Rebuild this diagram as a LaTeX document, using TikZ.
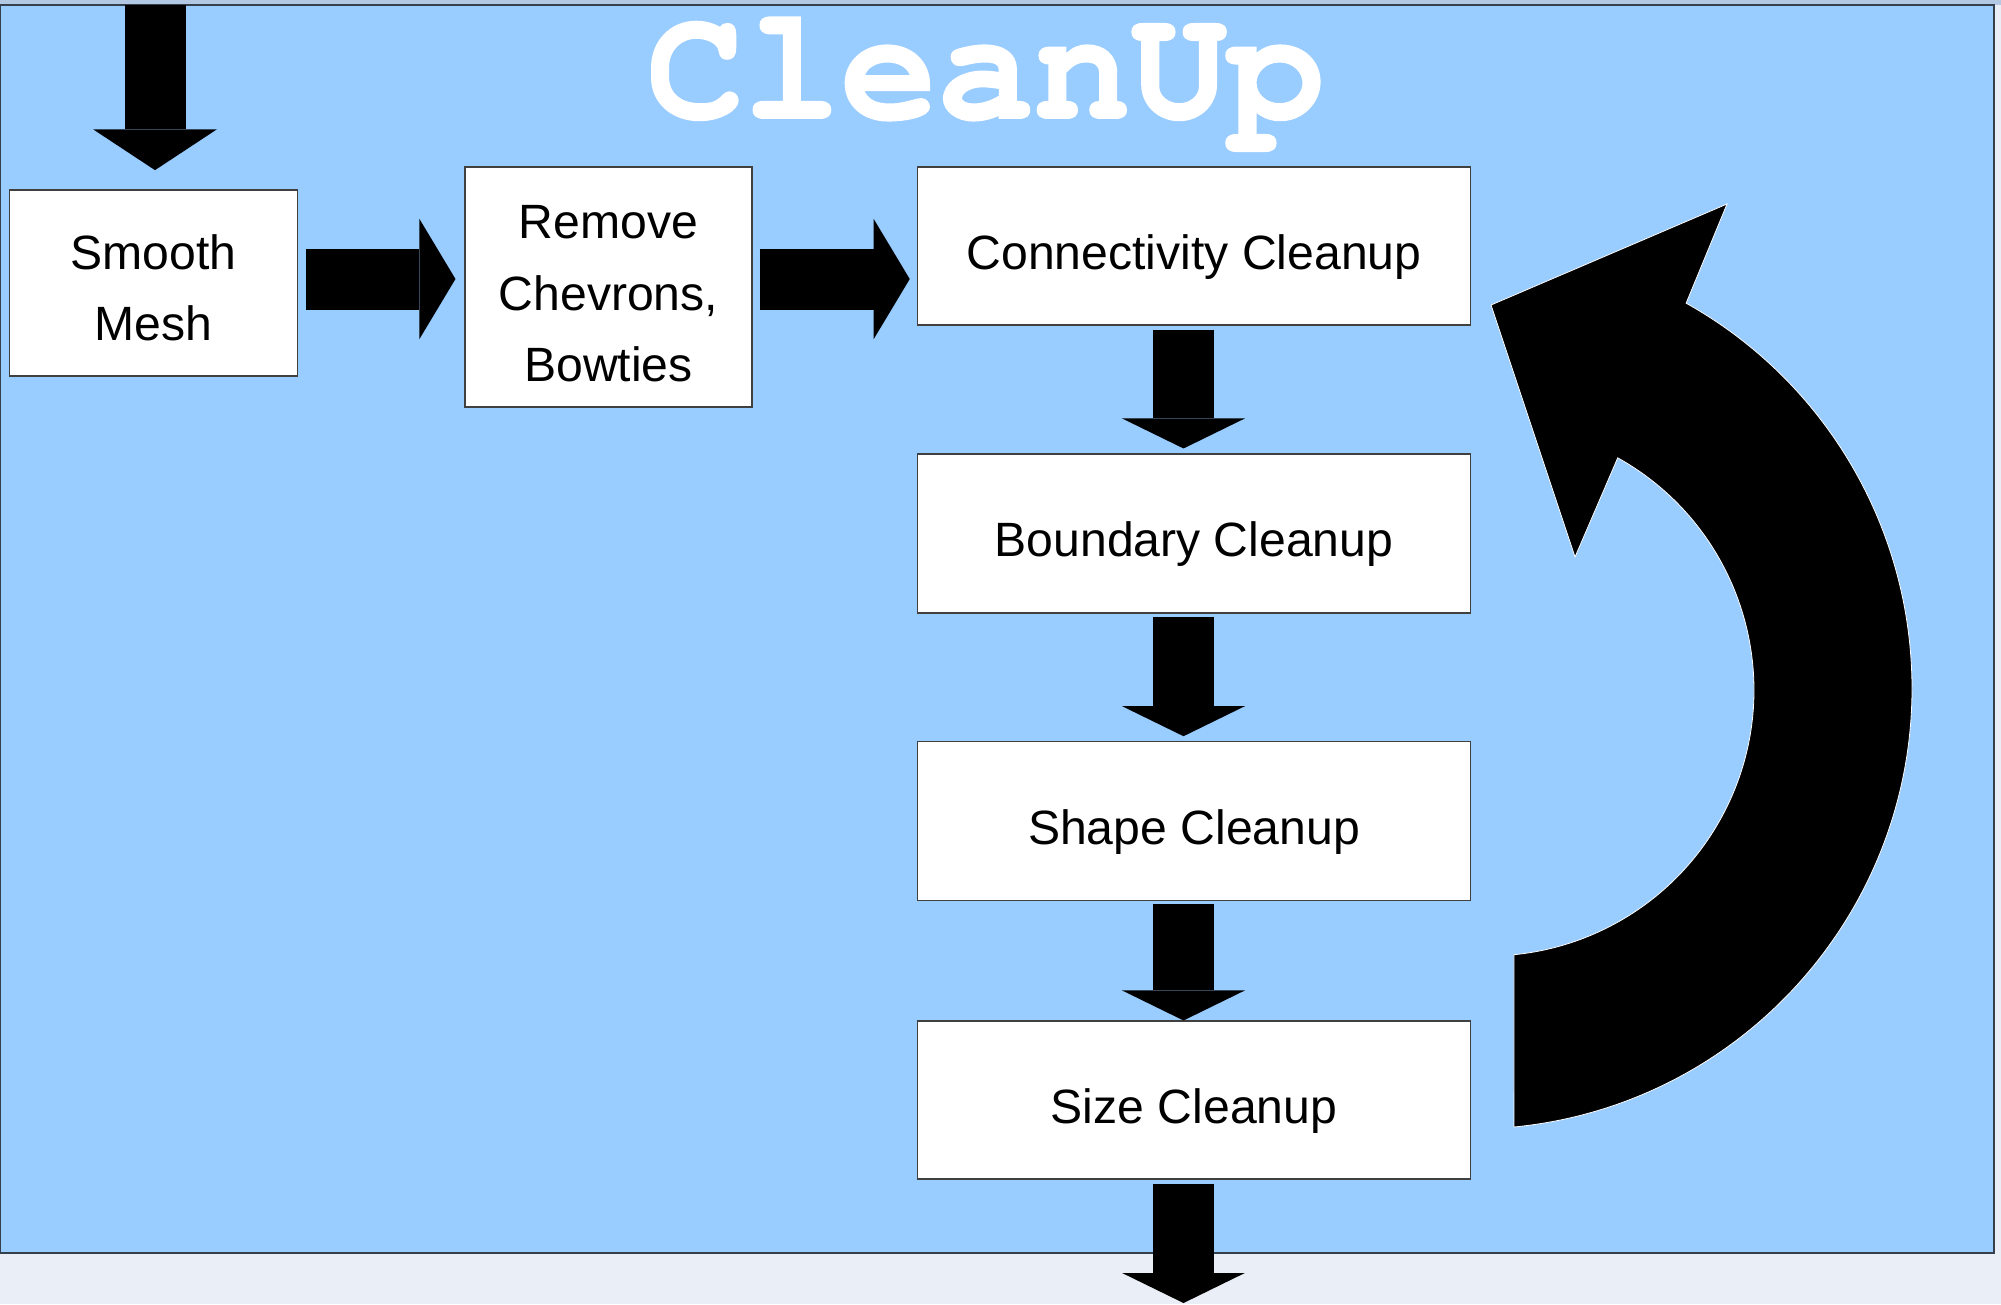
\documentclass[tikz,border=0pt]{standalone}
\usepackage{fontspec}
\setmainfont{Liberation Sans}
\newfontfamily\monotitle[BoldFeatures={FakeBold=1.2}]{TeX Gyre Cursor}
\usetikzlibrary{arrows.meta,calc}

\definecolor{panelblue}{HTML}{99CCFF}
\definecolor{outerbg}{HTML}{EAEEF7}
\definecolor{topstrip}{HTML}{B2C8E3}
\definecolor{frameline}{HTML}{34404E}

\tikzset{
  stepbox/.style={draw=black!75, line width=0.8pt, fill=white, inner sep=0pt,
    align=center, font=\fontsize{36.1}{53.6}\selectfont},
  oneline/.style={text height=34.5pt, text depth=0pt},
  blockarrow/.style={draw=black, line width=45.75pt},
  downhead/.style={-{Triangle[length=22.5pt,width=92pt,line width=0pt]}},
  righthead/.style={-{Triangle[length=27pt,width=90pt,line width=0pt]}},
  tophead/.style={-{Triangle[length=30.5pt,width=92.5pt,line width=0pt]}}
}

\begin{document}
\begin{tikzpicture}[x=0.75pt,y=0.75pt]
  % page and panel
  \useasboundingbox (0,0) rectangle (2001,-1304);
  \fill[outerbg] (0,0) rectangle (2001,-1304);
  \fill[topstrip] (0,0) rectangle (2001,-5);
  \filldraw[fill=panelblue, draw=frameline, line width=0.8pt] (0,-5) rectangle (1994,-1253);

  % title
  \node[anchor=base, text=white, inner sep=0pt, text height=72pt, text depth=24pt,
        font=\monotitle\bfseries\fontsize{121}{121}\selectfont] (title) at (985.5,-118) {CleanUp};

  % process steps
  \node[stepbox, text height=86.5pt, text depth=0pt, minimum width=216pt, minimum height=139.5pt]
    (smooth) at (153.5,-283) {Smooth\\Mesh};
  \node[stepbox, text height=141.9pt, text depth=0pt, minimum width=215.25pt, minimum height=180pt]
    (remove) at (608.5,-287) {Remove\\Chevrons,\\Bowties};
  \node[stepbox, oneline, minimum width=414.4pt, minimum height=118.5pt] (conn) at (1194,-246) {Connectivity Cleanup};
  \node[stepbox, oneline, minimum width=414.4pt, minimum height=119.25pt] (bound) at (1194,-533.5) {Boundary Cleanup};
  \node[stepbox, oneline, minimum width=414.4pt, minimum height=118.9pt] (shape) at (1194,-821) {Shape Cleanup};
  \node[stepbox, oneline, minimum width=414.4pt, minimum height=118.5pt] (size) at (1194,-1100) {Size Cleanup};

  % incoming arrow from the top edge
  \coordinate (in) at (155,-5);
  \draw[blockarrow, tophead, shorten >=14.5pt] (in) -- (in |- smooth.north);

  % horizontal flow
  \coordinate (r1) at ($(smooth.east)+(0,4)$);
  \draw[blockarrow, righthead, shorten <=6pt, shorten >=6.75pt] (r1) -- (r1 -| remove.west);
  \coordinate (r2) at ($(remove.east)+(0,8)$);
  \draw[blockarrow, righthead, shorten <=5.25pt, shorten >=5.6pt] (r2) -- (r2 -| conn.west);

  % vertical flow
  \coordinate (d1) at ($(conn.south)+(-10.5,0)$);
  \draw[blockarrow, downhead, shorten <=3pt, shorten >=3.75pt] (d1) -- (d1 |- bound.north);
  \coordinate (d2) at ($(bound.south)+(-10.5,0)$);
  \draw[blockarrow, downhead, shorten <=2.5pt, shorten >=3.75pt] (d2) -- (d2 |- shape.north);
  \coordinate (d3) at ($(shape.south)+(-10.5,0)$);
  \draw[blockarrow, downhead, shorten <=2.6pt] (d3) -- (d3 |- size.north);
  \coordinate (d4) at ($(size.south)+(-10.5,0)$);
  \coordinate (out) at (1183.5,-1303);
  \draw[blockarrow, downhead, shorten <=3pt] (d4) -- (out);

  % loop-back arrow
  \filldraw[fill=black, draw=white, line width=0.6pt]
    (1514,-1127) arc[start angle=-84.4, end angle=60.8, radius=441]
    -- (1727,-204) -- (1491,-305) -- (1575,-557) -- (1617.7,-457.8)
    arc[start angle=60.8, end angle=-84.4, radius=266] -- cycle;
\end{tikzpicture}
\end{document}
